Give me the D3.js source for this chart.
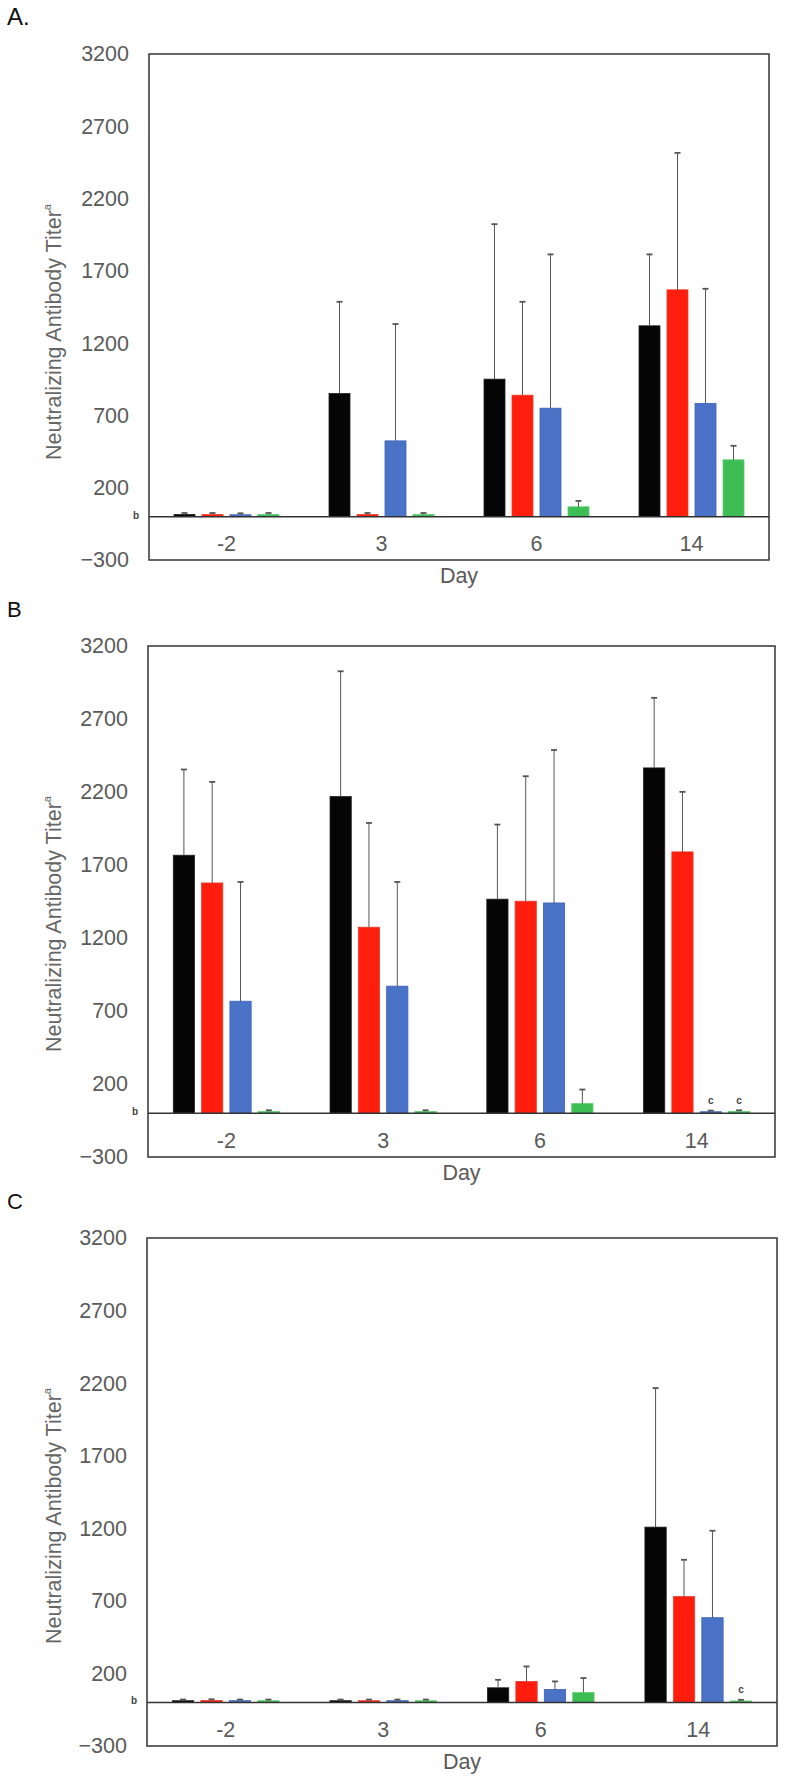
<!DOCTYPE html>
<html>
<head>
<meta charset="utf-8">
<script src="https://cdn.jsdelivr.net/npm/d3@7/dist/d3.min.js"></script>
<style>
  html, body { margin: 0; padding: 0; background: #fff; }
  svg { display: block; }
  text { font-family: "Liberation Sans", Arial, Helvetica, sans-serif; }
</style>
</head>
<body>
<svg id="chart" width="787" height="1780"></svg>
<script>
// ---------------- DATA ----------------
const days = ["-2", "3", "6", "14"];
const seriesNames = ["Black", "Red", "Blue", "Green"];
const yTicks = [-300, 200, 700, 1200, 1700, 2200, 2700, 3200];
const panelLabels = ["A.", "B", "C"];

// Panel A means and upper error (SD)
const aBlack = [15, 852, 951, 1320];
const aBlackErr = [10, 634, 1072, 494];
const aRed = [15, 15, 840, 1569];
const aRedErr = [10, 10, 646, 947];
const aBlue = [13, 524, 750, 783];
const aBlueErr = [10, 808, 1064, 793];
const aGreen = [15, 15, 68, 393];
const aGreenErr = [10, 10, 41, 97];

// Panel B
const bBlack = [1767, 2169, 1466, 2365];
const bBlackErr = [587, 858, 511, 480];
const bRed = [1577, 1274, 1452, 1790];
const bRedErr = [692, 714, 856, 411];
const bBlue = [767, 870, 1440, 10];
const bBlueErr = [817, 714, 1048, 8];
const bGreen = [12, 12, 66, 12];
const bGreenErr = [8, 8, 96, 8];
const bNotes = ["", "", "c", "c"]; // day 14 marks for series

// Panel C
const cBlack = [12, 12, 101, 1208];
const cBlackErr = [8, 8, 55, 958];
const cRed = [14, 12, 145, 730];
const cRedErr = [8, 8, 103, 253];
const cBlue = [12, 12, 90, 584];
const cBlueErr = [8, 8, 55, 599];
const cGreen = [12, 12, 69, 10];
const cGreenErr = [8, 8, 99, 8];

// ---------------- STYLE / LAYOUT ----------------
const colors = ["#050505", "#FF1E0E", "#4A73C8", "#3DBE55"];
const strokes = ["#222", "#e8402f", "#3d62b3", "#5fcf72"];
const layouts = [
  { top: 54, bottom: 560, left: 149, right: 769 },
  { top: 646, bottom: 1157, left: 148, right: 775 },
  { top: 1238, bottom: 1746, left: 147, right: 777 }
];
const panels = [
  { vals: [aBlack, aRed, aBlue, aGreen], errs: [aBlackErr, aRedErr, aBlueErr, aGreenErr], notes: [] },
  { vals: [bBlack, bRed, bBlue, bGreen], errs: [bBlackErr, bRedErr, bBlueErr, bGreenErr],
    notes: [{ day: 3, s: 2, t: "c" }, { day: 3, s: 3, t: "c" }] },
  { vals: [cBlack, cRed, cBlue, cGreen], errs: [cBlackErr, cRedErr, cBlueErr, cGreenErr],
    notes: [{ day: 3, s: 3, t: "c" }] }
];

const svg = d3.select("#chart");
const fs = 21.5;
const gray = "#5a5a5a";

panels.forEach((p, pi) => {
  const L = layouts[pi];
  const g = svg.append("g");
  const y = d3.scaleLinear().domain([-300, 3200]).range([L.bottom, L.top]);
  const x0 = d3.scaleBand().domain(days).range([L.left, L.right]).padding(0);
  const bw = x0.bandwidth();
  const x1 = d3.scaleBand().domain(seriesNames).range([-0.3387 * bw, 0.3387 * bw]).paddingInner(0.25);
  const zeroY = y(0);

  // panel letter
  g.append("text").attr("x", 7).attr("y", L.top - 29 - (pi === 0 ? 0 : 0))
    .attr("font-size", pi === 0 ? 24 : 22).attr("fill", "#111").text(panelLabels[pi]);

  // y axis labels
  const yAxis = d3.axisLeft(y).tickValues(yTicks).tickSize(0).tickPadding(20).tickFormat(d3.format("d"));
  const ya = g.append("g").attr("transform", `translate(${L.left},0)`).call(yAxis);
  ya.select(".domain").remove();
  ya.selectAll("text").attr("font-size", fs).attr("fill", gray)
    .attr("font-family", '"Liberation Sans", Arial, sans-serif');

  // "b" marker at zero
  g.append("text").attr("x", L.left - 10).attr("y", zeroY).attr("dy", "0.2em")
    .attr("text-anchor", "end").attr("font-size", 10).attr("font-weight", "bold")
    .attr("fill", "#444").text("b");

  // y axis title
  const ty = L.top + 278;
  const title = g.append("text").attr("transform", `translate(61,${ty}) rotate(-90)`)
    .attr("text-anchor", "middle").attr("font-size", fs).attr("fill", "#666");
  title.append("tspan").text("Neutralizing Antibody Titer");
  title.append("tspan").attr("font-size", 11).attr("dy", "-0.9em").text("a");

  // bars
  p.vals.forEach((vals, si) => {
    const errs = p.errs[si];
    days.forEach((d, di) => {
      const cx = x0(d) + bw / 2;
      const bx = cx + x1(seriesNames[si]);
      const w = x1.bandwidth();
      const v = vals[di];
      g.append("rect").attr("x", bx).attr("y", y(v)).attr("width", w)
        .attr("height", Math.max(0.8, zeroY - y(v)))
        .attr("fill", colors[si]).attr("stroke", strokes[si]).attr("stroke-width", 0.8);
      const top = y(v + errs[di]);
      const mx = bx + w / 2;
      g.append("line").attr("x1", mx).attr("x2", mx).attr("y1", y(v)).attr("y2", top)
        .attr("stroke", "#555").attr("stroke-width", 1);
      g.append("line").attr("x1", mx - 3).attr("x2", mx + 3).attr("y1", top).attr("y2", top)
        .attr("stroke", "#555").attr("stroke-width", 1.8);
    });
  });

  // "c" notes
  p.notes.forEach(n => {
    const d = days[n.day];
    const cx = x0(d) + bw / 2 + x1(seriesNames[n.s]) + x1.bandwidth() / 2;
    g.append("text").attr("x", cx).attr("y", zeroY - 9).attr("text-anchor", "middle")
      .attr("font-size", 10).attr("font-weight", "bold").attr("fill", "#444").text(n.t);
  });

  // frame
  g.append("rect").attr("x", L.left).attr("y", L.top).attr("width", L.right - L.left)
    .attr("height", L.bottom - L.top).attr("fill", "none").attr("stroke", "#333").attr("stroke-width", 1.5);
  // zero line
  g.append("line").attr("x1", L.left).attr("x2", L.right).attr("y1", zeroY).attr("y2", zeroY)
    .attr("stroke", "#333").attr("stroke-width", 1.5);

  // x axis labels
  const xAxis = d3.axisBottom(x0).tickSize(0).tickPadding(0);
  const xa = g.append("g").attr("transform", `translate(0,${L.bottom - 9.5})`).call(xAxis);
  xa.select(".domain").remove();
  xa.selectAll("text").attr("dy", 0).attr("y", 0).attr("font-size", fs).attr("fill", gray)
    .attr("font-family", '"Liberation Sans", Arial, sans-serif');

  // x title
  g.append("text").attr("x", (L.left + L.right) / 2).attr("y", L.bottom + 23)
    .attr("text-anchor", "middle").attr("font-size", fs).attr("fill", gray).text("Day");
});
</script>
</body>
</html>
